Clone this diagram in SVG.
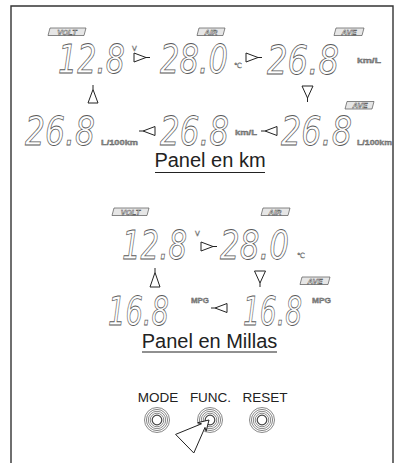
<svg xmlns="http://www.w3.org/2000/svg" width="399" height="463" viewBox="0 0 399 463">
<style>
.frame{fill:none;stroke:#333;stroke-width:1.4}
.lcd{font-family:"DejaVu Sans","Liberation Sans",sans-serif;font-style:italic;font-size:39px;fill:#fff;stroke:#5a5a5a;stroke-width:0.8}
.tag{fill:#e6e6e6;stroke:#555;stroke-width:0.7}
.tagt{font-family:"Liberation Sans",sans-serif;font-style:italic;font-weight:bold;font-size:7.5px;fill:#fff;stroke:#444;stroke-width:0.45;text-anchor:middle}
.unit{font-family:"Liberation Sans",sans-serif;font-weight:bold;font-size:6.5px;fill:#999;stroke:#555;stroke-width:0.3}
.sym{font-family:"DejaVu Sans",sans-serif;font-size:7px;fill:#fff;stroke:#555;stroke-width:0.4}
.title{font-family:"Liberation Sans",Arial,sans-serif;font-size:20px;fill:#222;text-anchor:middle}
.uline{stroke:#222;stroke-width:1.2}
.btnt{font-family:"Liberation Sans",Arial,sans-serif;font-size:13.5px;fill:#222;text-anchor:middle}
.ring{fill:none;stroke:#888;stroke-width:1}
.hole{fill:#fff;stroke:#444;stroke-width:1.2}
.arr{fill:#fff;stroke:#222;stroke-width:1;stroke-linejoin:round}
</style>
<path class="frame" d="M11,470 V6 H393 V470"/>

<g id="volt-km">
<polygon class="tag" points="50,28 86,28 84,35.5 48,35.5"/><text class="tagt" x="67" y="34.5">VOLT</text>
<text class="lcd" transform="translate(58,73) scale(0.772,1)">12.8</text>
<text class="sym" x="132" y="51">V</text>
</g>
<g id="air-km">
<polygon class="tag" points="199,28 225,28 223,35.5 197,35.5"/><text class="tagt" x="211" y="34.5">AIR</text>
<text class="lcd" transform="translate(160,73) scale(0.783,1)">28.0</text>
<text class="sym" x="234" y="68">℃</text>
</g>
<g id="ave-kml">
<polygon class="tag" points="336,28 364,28 362,35.5 334,35.5"/><text class="tagt" x="349" y="34.5">AVE</text>
<text class="lcd" transform="translate(267,74) scale(0.829,1)">26.8</text>
<text class="unit" x="357" y="63" textLength="24" lengthAdjust="spacingAndGlyphs">km/L</text>
</g>
<g id="ave-l100">
<polygon class="tag" points="347,101.5 374,101.5 372,109 345,109"/><text class="tagt" x="360" y="108">AVE</text>
<text class="lcd" transform="translate(281,145) scale(0.818,1)">26.8</text>
<text class="unit" x="357" y="145" textLength="35" lengthAdjust="spacingAndGlyphs">L/100km</text>
</g>
<g id="inst-kml">
<text class="lcd" transform="translate(160,145) scale(0.795,1)">26.8</text>
<text class="unit" x="235" y="135" textLength="22" lengthAdjust="spacingAndGlyphs">km/L</text>
</g>
<g id="inst-l100">
<text class="lcd" transform="translate(25,145) scale(0.806,1)">26.8</text>
<text class="unit" x="101" y="145" textLength="37" lengthAdjust="spacingAndGlyphs">L/100km</text>
</g>
<g id="title-km">
<text class="title" x="210" y="167">Panel en km</text>
<line class="uline" x1="155" y1="172.5" x2="265" y2="172.5"/>
</g>

<g id="volt-mi">
<polygon class="tag" points="114,208 149,208 147,215.5 112,215.5"/><text class="tagt" x="130.5" y="214.5">VOLT</text>
<text class="lcd" transform="translate(122,259) scale(0.749,1)">12.8</text>
<text class="sym" x="195" y="236">V</text>
</g>
<g id="air-mi">
<polygon class="tag" points="263,208 290,208 288,215.5 261,215.5"/><text class="tagt" x="275" y="214.5">AIR</text>
<text class="lcd" transform="translate(220,259) scale(0.795,1)">28.0</text>
<text class="sym" x="297" y="258">℃</text>
</g>
<g id="ave-mpg">
<polygon class="tag" points="302,277 330,277 328,284.5 300,284.5"/><text class="tagt" x="315" y="283.5">AVE</text>
<text class="lcd" transform="translate(243,325) scale(0.68,1)">16.8</text>
<text class="unit" x="312" y="303" textLength="19" lengthAdjust="spacingAndGlyphs">MPG</text>
</g>
<g id="inst-mpg">
<text class="lcd" transform="translate(108,325) scale(0.703,1)">16.8</text>
<text class="unit" x="191" y="303" textLength="18" lengthAdjust="spacingAndGlyphs">MPG</text>
</g>
<g id="title-mi">
<text class="title" x="209.5" y="348">Panel en Millas</text>
<line class="uline" x1="142" y1="352" x2="277" y2="352"/>
</g>

<g id="btn-mode">
<text class="btnt" x="158" y="402">MODE</text>
<circle class="ring" cx="157" cy="420" r="12.5"/><circle class="ring" cx="157" cy="420" r="10.6"/><circle class="ring" cx="157" cy="420" r="8.7"/><circle class="ring" cx="157" cy="420" r="6.8"/>
<circle class="hole" cx="157" cy="420" r="4.8"/>
</g>
<g id="btn-func">
<text class="btnt" x="210.5" y="402">FUNC.</text>
<circle class="ring" cx="210" cy="420" r="12.5"/><circle class="ring" cx="210" cy="420" r="10.6"/><circle class="ring" cx="210" cy="420" r="8.7"/><circle class="ring" cx="210" cy="420" r="6.8"/>
<circle class="hole" cx="210" cy="420" r="4.8"/>
</g>
<g id="btn-reset">
<text class="btnt" x="265" y="402">RESET</text>
<circle class="ring" cx="262" cy="420" r="12.5"/><circle class="ring" cx="262" cy="420" r="10.6"/><circle class="ring" cx="262" cy="420" r="8.7"/><circle class="ring" cx="262" cy="420" r="6.8"/>
<circle class="hole" cx="262" cy="420" r="4.8"/>
</g>

<g id="connectors">
<path class="arr" d="M134,53 L146,57.5 L134,62 Z M146,57.5 H150"/>
<path class="arr" d="M246,53 L258,57.5 L246,62 Z M258,57.5 H262"/>
<path class="arr" d="M302,86 L313,86 L307.5,98 Z M307.5,98 V102"/>
<path class="arr" d="M277,126.5 L265,131 L277,135.5 Z M265,131 H261"/>
<path class="arr" d="M155,126.5 L143,131 L155,135.5 Z M143,131 H139"/>
<path class="arr" d="M88,103 L98,103 L93,89.5 Z M93,89.5 V85"/>
<path class="arr" d="M201,242 L213,246.5 L201,251 Z M213,246.5 H217"/>
<path class="arr" d="M254.5,271 L265.5,271 L260,283 Z M260,283 V287"/>
<path class="arr" d="M227,303.5 L215,308 L227,312.5 Z M215,308 H211"/>
<path class="arr" d="M150,287 L160,287 L155,272.5 Z M155,272.5 V268"/>
<path class="arr" d="M209,420 L197.7,422.7 L201.5,423.8 L175.6,434.4 L193.8,453 L205,427.4 L206.1,431.3 Z"/>
</g>
</svg>
